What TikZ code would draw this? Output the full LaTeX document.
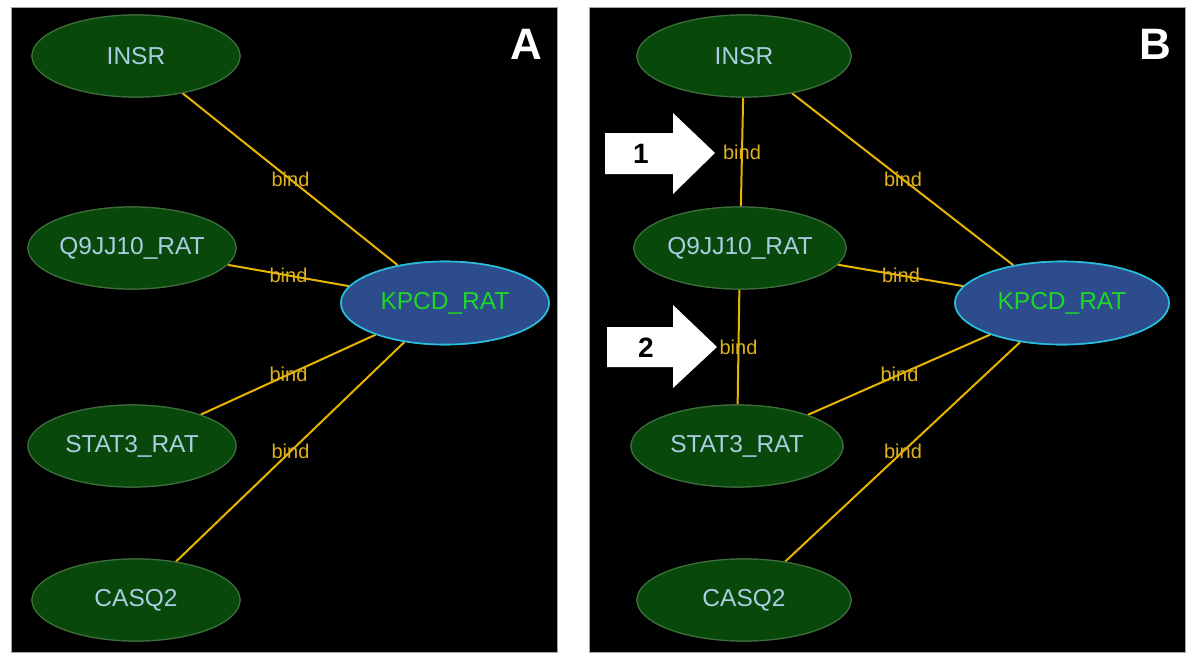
\documentclass[tikz,border=0pt]{standalone}
\usepackage{fontspec}
\setmainfont{Liberation Sans}
\usetikzlibrary{shapes.geometric,calc}
\definecolor{nodefill}{RGB}{8,72,10}
\definecolor{nodeline}{RGB}{60,110,60}
\definecolor{nodetext}{RGB}{170,205,225}
\definecolor{hubfill}{RGB}{44,76,140}
\definecolor{hubline}{RGB}{40,190,220}
\definecolor{hubtext}{RGB}{30,215,40}
\definecolor{edgecol}{RGB}{232,180,0}
\definecolor{labcol}{RGB}{222,178,30}
\begin{document}
\begin{tikzpicture}[x=1pt,y=-1pt,
  gnode/.style={ellipse,draw=nodeline,line width=1.2pt,fill=nodefill,text=nodetext,
    minimum width=#1,minimum height=82pt,inner sep=0pt,
    font=\fontsize{24.5}{28}\selectfont},
  gnode/.default=208pt,
  hub/.style={ellipse,draw=hubline,line width=1.6pt,fill=hubfill,text=hubtext,
    minimum width=#1,minimum height=83pt,inner sep=0pt,
    font=\fontsize{24.5}{28}\selectfont},
  hub/.default=208pt,
  edge/.style={draw=edgecol,line width=2pt},
  elab/.style={text=labcol,inner sep=0pt,font=\fontsize{20}{23}\selectfont},
  panel/.style={fill=black,draw=gray!70,line width=0.6pt},
  plabel/.style={text=white,inner sep=0pt,font=\fontsize{44}{50}\selectfont\bfseries},
  numlab/.style={text=black,inner sep=0pt,font=\fontsize{28}{32}\selectfont\bfseries}]
\useasboundingbox[fill=white] (0,0) rectangle (1200,667);
\path[panel] (11,7) rectangle (557,652);
\path[panel] (589,7) rectangle (1185,652);

% ---------- Panel A ----------
\coordinate (ca1) at (136,56);
\coordinate (ca2) at (132,248);
\coordinate (ca3) at (445,303);
\coordinate (ca4) at (132,446);
\coordinate (ca5) at (136,600);
\node[hub] (akpcd) at (ca3) {};
\node[gnode] (ainsr) at (ca1) {};
\node[gnode] (aq9) at (ca2) {};
\node[gnode] (astat) at (ca4) {};
\node[gnode] (acasq) at (ca5) {};
\draw[edge] (ainsr) -- (akpcd);
\draw[edge] (aq9) -- (akpcd);
\draw[edge] (astat) -- (akpcd);
\draw[edge] (acasq) -- (akpcd);
\node[hub] at (ca3) {KPCD\_RAT};
\node[gnode] at (ca1) {INSR};
\node[gnode] at (ca2) {Q9JJ10\_RAT};
\node[gnode] at (ca4) {STAT3\_RAT};
\node[gnode] at (ca5) {CASQ2};
\node[elab] (la1) at ($(ca1)!0.5!(ca3)$) {bind};
\node[elab] (la2) at ($(ca2)!0.5!(ca3)$) {bind};
\node[elab] (la3) at ($(ca4)!0.5!(ca3)$) {bind};
\node[elab] (la4) at ($(ca5)!0.5!(ca3)$) {bind};
\node[plabel] (pa) at (526,44) {A};

% ---------- Panel B ----------
\coordinate (cb1) at (744,56);
\coordinate (cb2) at (740,248);
\coordinate (cb3) at (1062,303);
\coordinate (cb4) at (737,446);
\coordinate (cb5) at (744,600);
\node[hub=214pt] (bkpcd) at (cb3) {};
\node[gnode=214pt] (binsr) at (cb1) {};
\node[gnode=212pt] (bq9) at (cb2) {};
\node[gnode=212pt] (bstat) at (cb4) {};
\node[gnode=214pt] (bcasq) at (cb5) {};
\draw[edge] (binsr) -- (bkpcd);
\draw[edge] (bq9) -- (bkpcd);
\draw[edge] (bstat) -- (bkpcd);
\draw[edge] (bcasq) -- (bkpcd);
\draw[edge] (binsr) -- (bq9);
\draw[edge] (bq9) -- (bstat);
\node[hub=214pt] at (cb3) {KPCD\_RAT};
\node[gnode=214pt] at (cb1) {INSR};
\node[gnode=212pt] at (cb2) {Q9JJ10\_RAT};
\node[gnode=212pt] at (cb4) {STAT3\_RAT};
\node[gnode=214pt] at (cb5) {CASQ2};
\node[elab] (lb1) at ($(cb1)!0.5!(cb3)$) {bind};
\node[elab] (lb2) at ($(cb2)!0.5!(cb3)$) {bind};
\node[elab] (lb3) at ($(cb4)!0.5!(cb3)$) {bind};
\node[elab] (lb4) at ($(cb5)!0.5!(cb3)$) {bind};
\node[elab] (lb5) at ($(cb1)!0.5!(cb2)$) {bind};
\node[elab] (lb6) at ($(cb2)!0.5!(cb4)$) {bind};
\node[plabel] (pb) at (1155,44) {B};

% white block arrows
\fill[white] (605,133) -- (673,133) -- (673,113) -- (715,153) -- (673,194) -- (673,174) -- (605,174) -- cycle;
\node[numlab] (n1) at (641,154) {1};
\fill[white] (607,327) -- (673,327) -- (673,305) -- (717,347) -- (673,388) -- (673,367) -- (607,367) -- cycle;
\node[numlab] (n2) at (646,348) {2};
\end{tikzpicture}
\end{document}
